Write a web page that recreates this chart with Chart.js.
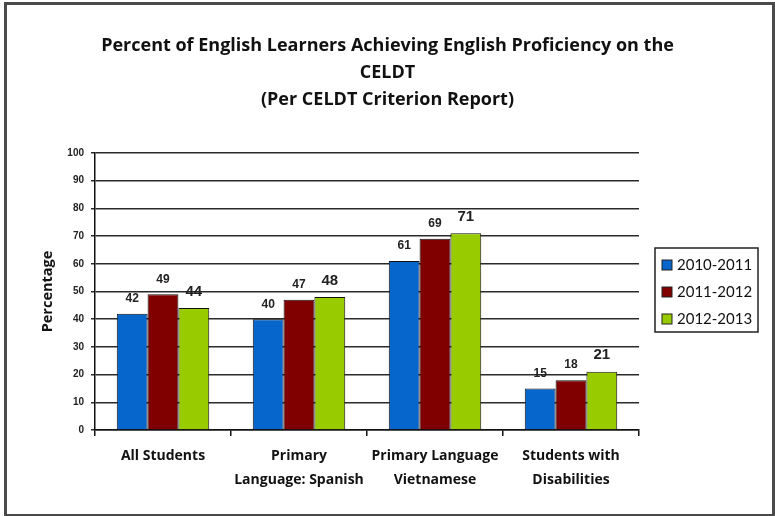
<!DOCTYPE html>
<html>
<head>
<meta charset="utf-8">
<script src="https://cdn.jsdelivr.net/npm/chart.js@4.4.1/dist/chart.umd.min.js"></script>
<style>
  body { margin: 0; background: #fff; }
  #frame { position: absolute; left: 4px; top: 2px; width: 765px; height: 509px; border: 3px solid #4a4a4a; }
  #wrap { position: absolute; left: 0; top: 0; width: 775px; height: 516px; }
</style>
</head>
<body>
<div id="frame"></div>
<div id="wrap"><canvas id="myChart" width="775" height="516"></canvas></div>
<script>
'use strict'
// chart data
var categories = [['All Students'], ['Primary', 'Language: Spanish'], ['Primary Language', 'Vietnamese'], ['Students with', 'Disabilities']];
var years = ['2010-2011', '2011-2012', '2012-2013'];
var vals1011 = [42, 40, 61, 15];
var vals1112 = [49, 47, 69, 18];
var vals1213 = [44, 48, 71, 21];
var yTicks = [0, 10, 20, 30, 40, 50, 60, 70, 80, 90, 100];

var colors = ['#0766cc', '#800000', '#99cc00'];
var labelFonts = ['bold 12px "Liberation Sans", Arial', 'bold 12px "Liberation Sans", Arial', 'bold 15px "Liberation Sans", Arial'];
var labelGap = [9, 9, 9];

// draws numbers over bars
var barLabels = {
    id: 'barLabels',
    afterDatasetsDraw: function(chart) {
        var ctx = chart.ctx;
        ctx.save();
        ctx.fillStyle = '#222';
        ctx.textAlign = 'center';
        ctx.textBaseline = 'bottom';
        chart.data.datasets.forEach(function(ds, i) {
            var meta = chart.getDatasetMeta(i);
            ctx.font = labelFonts[i];
            meta.data.forEach(function(bar, j) {
                ctx.fillText(ds.data[j], bar.x, bar.y - labelGap[i]);
            });
        });
        ctx.restore();
    }
};

// legend with a box round it
var boxLegend = {
    id: 'boxLegend',
    afterDraw: function(chart) {
        var ctx = chart.ctx;
        var a = chart.chartArea;
        var x = a.right + 16;
        var y = 248;
        ctx.save();
        ctx.strokeStyle = '#222';
        ctx.lineWidth = 1.5;
        ctx.strokeRect(x, y, 103, 84);
        ctx.font = '15px Lato';
        ctx.textBaseline = 'middle';
        chart.data.datasets.forEach(function(ds, i) {
            var cy = y + 17 + i * 27;
            ctx.fillStyle = ds.backgroundColor;
            ctx.fillRect(x + 7, cy - 5, 10, 10);
            ctx.strokeStyle = '#222';
            ctx.lineWidth = 1;
            ctx.strokeRect(x + 7, cy - 5, 10, 10);
            ctx.fillStyle = '#111';
            ctx.fillText(ds.label, x + 22, cy);
        });
        ctx.restore();
    }
};

var ctx = document.getElementById('myChart').getContext('2d');

var chart = new Chart(ctx, {
    type: 'bar',
    data: {
        labels: categories,
        datasets: [
            { label: years[0], data: vals1011, backgroundColor: colors[0] },
            { label: years[1], data: vals1112, backgroundColor: colors[1] },
            { label: years[2], data: vals1213, backgroundColor: colors[2] }
        ]
    },
    options: {
        responsive: false,
        animation: false,
        layout: { padding: 0 },
        datasets: {
            bar: {
                borderColor: '#111',
                borderWidth: 1,
                categoryPercentage: 0.68,
                barPercentage: 1
            }
        },
        plugins: {
            legend: { display: false },
            tooltip: { enabled: false },
            title: {
                display: true,
                text: ['Percent of English Learners Achieving English Proficiency on the', 'CELDT', '(Per CELDT Criterion Report)'],
                color: '#111',
                font: { family: '"Open Sans"', size: 18, weight: 'bold', lineHeight: '27px' },
                padding: { top: 32, bottom: 40 }
            }
        },
        scales: {
            x: {
                afterFit: function(scale) { scale.height = 86; },
                grid: { drawOnChartArea: false, color: '#111', tickLength: 6, lineWidth: 1.5 },
                border: { color: '#111', width: 1.5 },
                ticks: {
                    color: '#111',
                    padding: 8,
                    maxRotation: 0,
                    font: { family: '"Open Sans"', size: 14, weight: 'bold', lineHeight: '24px' }
                }
            },
            y: {
                min: 0,
                max: 100,
                afterFit: function(scale) { scale.width = 95; },
                afterBuildTicks: function(scale) {
                    scale.ticks = yTicks.map(function(v) { return { value: v }; });
                },
                grid: { color: '#2a2a2a', lineWidth: 1.5, tickLength: 4 },
                border: { color: '#111', width: 1.5 },
                ticks: {
                    color: '#222',
                    padding: 7,
                    font: { family: '"Liberation Sans", Arial', size: 10, weight: 'bold' }
                },
                title: {
                    display: true,
                    text: 'Percentage',
                    color: '#111',
                    padding: { top: 39, bottom: 0 },
                    font: { family: '"Open Sans"', size: 14.5, weight: 'bold' }
                }
            },
            // empty scale that keeps room for the legend on the right
            side: {
                position: 'right',
                afterFit: function(scale) { scale.width = 136; },
                grid: { display: false },
                border: { display: false },
                ticks: { display: false }
            }
        }
    },
    plugins: [barLabels, boxLegend]
});
</script>
</body>
</html>
